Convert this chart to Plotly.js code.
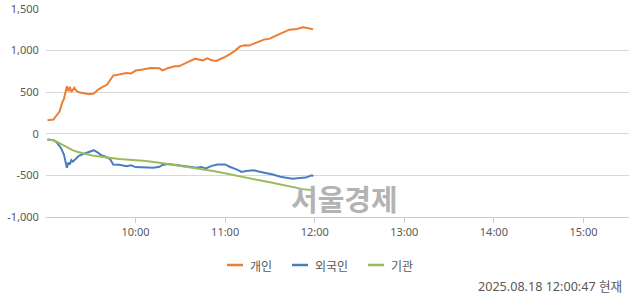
<!DOCTYPE html>
<html>
<head>
<meta charset="utf-8">
<script src="https://cdn.plot.ly/plotly-3.0.1.min.js"></script>
<style>
html,body{margin:0;padding:0;background:#fff;}
#chart{width:640px;height:294px;}
</style>
</head>
<body>
<div id="chart"></div>
<script>
var DATE = '2025-08-18 ';

var seriesNames = ['개인', '외국인', '기관'];
var seriesColors = ['#ED7D31', '#4A7EBF', '#9BBB59'];

var timesInd = ['09:01','09:05','09:07','09:09','09:11','09:12','09:14','09:15','09:16','09:17','09:19','09:20','09:22','09:26','09:29','09:32','09:35','09:38','09:41','09:45','09:49','09:54','09:57','10:00','10:05','10:10','10:16','10:18','10:22','10:26','10:29','10:33','10:36','10:40','10:43','10:45','10:48','10:51','10:54','10:56','11:00','11:03','11:06','11:10','11:13','11:16','11:20','11:23','11:26','11:30','11:33','11:37','11:40','11:43','11:48','11:52','11:55','11:59'];
var valsInd = [163,172,220,265,380,420,571,511,564,504,552,523,499,484,475,484,532,564,592,700,712,732,724,760,772,792,787,763,792,811,811,843,871,903,891,883,907,883,876,891,924,955,991,1051,1063,1060,1084,1111,1132,1144,1171,1204,1219,1252,1260,1280,1272,1255];

var timesFor = ['09:01','09:05','09:07','09:09','09:10','09:12','09:14','09:15','09:16','09:17','09:18','09:20','09:22','09:26','09:29','09:32','09:35','09:37','09:40','09:43','09:45','09:49','09:54','09:57','10:00','10:04','10:08','10:12','10:16','10:18','10:22','10:25','10:29','10:36','10:41','10:44','10:47','10:51','10:55','11:00','11:03','11:08','11:11','11:14','11:19','11:23','11:28','11:32','11:37','11:41','11:45','11:50','11:54','11:58','11:59'];
var valsFor = [-68,-77,-100,-148,-170,-250,-408,-345,-368,-317,-335,-300,-265,-236,-212,-197,-230,-258,-276,-305,-368,-372,-390,-378,-400,-405,-402,-408,-396,-375,-364,-370,-380,-396,-408,-398,-415,-385,-368,-368,-396,-430,-458,-448,-438,-455,-470,-490,-516,-528,-540,-532,-526,-498,-508];

var timesInst = ['09:01','09:05','09:09','09:14','09:18','09:22','09:27','09:31','09:36','09:40','09:45','09:49','09:58','10:07','10:16','10:25','10:34','10:45','10:52','10:59','11:08','11:19','11:30','11:41','11:52','11:59'];
var valsInst = [-68,-78,-112,-160,-200,-222,-244,-260,-274,-286,-294,-302,-312,-328,-348,-372,-404,-430,-448,-472,-508,-545,-582,-620,-665,-678];

var xTickTimes = ['10:00','11:00','12:00','13:00','14:00','15:00'];
var yTickVals = [-1000,-500,0,500,1000,1500];
var yTickLabels = ['-1,000','-500','0','500','1,000','1,500'];

var watermark = '서울경제';
var stampText = '2025.08.18 12:00:47 현재';

function toX(arr){ return arr.map(function(t){ return DATE + t; }); }

var allTimes = [timesInd, timesFor, timesInst];
var allVals = [valsInd, valsFor, valsInst];

var traces = allVals.map(function(v, i){
  return {
    type: 'scatter', mode: 'lines',
    x: toX(allTimes[i]), y: v,
    name: seriesNames[i],
    line: {color: seriesColors[i], width: 2},
    hoverinfo: 'skip'
  };
});

var FONT = '"Noto Sans", "Noto Sans CJK KR", sans-serif';
var KFONT = '"Noto Sans CJK KR", "Noto Sans", sans-serif';

// custom legend
var legendX0 = [227, 292, 368];
var shapes = [];
var annotations = [];
var plotL = 46, plotW = 583, plotT = 9, plotH = 208;
function px2x(p){ return (p - plotL) / plotW; }
function py2y(p){ return (plotT + plotH - p) / plotH; }

seriesNames.forEach(function(n, i){
  shapes.push({type:'line', xref:'paper', yref:'paper',
    x0: px2x(legendX0[i]), x1: px2x(legendX0[i] + 16),
    y0: py2y(265), y1: py2y(265),
    line:{color: seriesColors[i], width: 2.5}});
  annotations.push({xref:'paper', yref:'paper', x: px2x(legendX0[i] + 21), y: py2y(265),
    xanchor:'left', yanchor:'middle', text: n, showarrow:false,
    font:{family: KFONT, size: 12, color:'#595959'}});
});

annotations.push({xref:'paper', yref:'paper', x: px2x(344.5), y: py2y(197.5),
  xanchor:'center', yanchor:'middle', text: '<b>' + watermark + '</b>', showarrow:false,
  font:{family: KFONT, size: 29, color:'#b3b3b3'}});

annotations.push({xref:'paper', yref:'paper', x: px2x(624), y: py2y(286),
  xanchor:'right', yanchor:'middle', text: stampText, showarrow:false,
  font:{family: FONT, size: 12.6, color:'#595959'}});

var layout = {
  width: 640, height: 294,
  margin: {l: plotL, r: 640 - plotL - plotW, t: plotT, b: 294 - plotT - plotH, pad: 0},
  paper_bgcolor: '#fff', plot_bgcolor: '#fff',
  showlegend: false,
  font: {family: FONT, size: 11, color: '#595959'},
  xaxis: {
    type: 'date',
    range: [DATE + '09:00', DATE + '15:30:30'],
    tickvals: toX(xTickTimes),
    ticktext: xTickTimes,
    showgrid: false, zeroline: false,
    showline: true, linecolor: '#c3cde2', linewidth: 1,
    ticks: 'outside', ticklen: 5, tickcolor: '#c3cde2', tickwidth: 1,
    tickfont: {family: FONT, size: 11, color: '#595959'},
    fixedrange: true
  },
  yaxis: {
    range: [-1000, 1500],
    tickvals: yTickVals, ticktext: yTickLabels,
    showgrid: true, gridcolor: '#d9d9d9', gridwidth: 1,
    zeroline: false, showline: false,
    ticks: 'outside', ticklen: 4, tickcolor: 'rgba(0,0,0,0)',
    tickfont: {family: FONT, size: 11, color: '#595959'},
    fixedrange: true
  },
  shapes: shapes,
  annotations: annotations
};

Plotly.newPlot('chart', traces, layout, {displayModeBar: false, staticPlot: true});
</script>
</body>
</html>
